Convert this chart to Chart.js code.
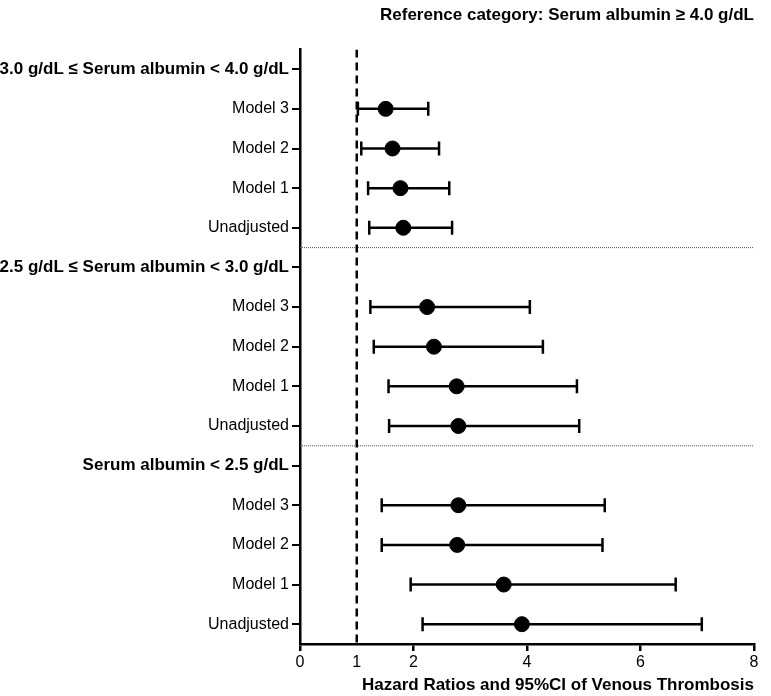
<!DOCTYPE html>
<html>
<head>
<meta charset="utf-8">
<script src="https://cdn.jsdelivr.net/npm/chart.js@4"></script>
<style>
  body { margin: 0; background: #fff; }
</style>
</head>
<body>
<canvas id="forest" width="771" height="696"></canvas>
<script>
const rowLabels = [
    '3.0 g/dL \u2264 Serum albumin < 4.0 g/dL', 'Model 3', 'Model 2', 'Model 1', 'Unadjusted',
    '2.5 g/dL \u2264 Serum albumin < 3.0 g/dL', 'Model 3', 'Model 2', 'Model 1', 'Unadjusted',
    'Serum albumin < 2.5 g/dL', 'Model 3', 'Model 2', 'Model 1', 'Unadjusted'
]
const headerRows = [0, 5, 10]
const separators = [4.5, 9.5]
// hazard ratio and 95% CI per row (null = header row)
const hr    = [null, 1.51, 1.63, 1.77, 1.82, null, 2.24, 2.36, 2.76, 2.79, null, 2.79, 2.77, 3.59, 3.91]
const ciLow = [null, 1.02, 1.08, 1.20, 1.22, null, 1.24, 1.30, 1.56, 1.57, null, 1.44, 1.44, 1.95, 2.16]
const ciHigh= [null, 2.26, 2.45, 2.63, 2.68, null, 4.05, 4.28, 4.88, 4.92, null, 5.37, 5.33, 6.62, 7.08]
const xTicks = [0, 1, 2, 4, 6, 8]

const fontFamily = '"Liberation Sans", Arial, Helvetica, sans-serif'
Chart.defaults.font.family = fontFamily
Chart.defaults.color = '#000'

let datasets = []

// dots first so they are drawn on top
let dots = []
hr.forEach((v, i) => {
    if (v !== null) dots.push({x: v, y: i})
})
datasets.push({
    data: dots,
    pointRadius: 7.5,
    pointBackgroundColor: '#000',
    pointBorderColor: '#000',
    showLine: false
})

// error bars with vertical caps
hr.forEach((v, i) => {
    if (v === null) return
    datasets.push({
        data: [{x: ciLow[i], y: i}, {x: ciHigh[i], y: i}],
        showLine: true,
        borderColor: '#000',
        borderWidth: 2.5,
        pointStyle: 'line',
        pointRotation: 90,
        pointRadius: 7,
        pointBorderWidth: 2.5,
        pointBorderColor: '#000'
    })
})

// reference line at HR = 1
datasets.push({
    data: [{x: 1, y: -0.5}, {x: 1, y: 14.5}],
    showLine: true,
    borderColor: '#000',
    borderWidth: 2.5,
    borderDash: [8, 5],
    pointRadius: 0
})

// dotted separators between groups
separators.forEach(s => {
    datasets.push({
        data: [{x: 0, y: s}, {x: 8, y: s}],
        showLine: true,
        borderColor: '#555',
        borderWidth: 1,
        borderDash: [1, 1],
        pointRadius: 0
    })
})

new Chart(document.getElementById('forest'), {
    type: 'scatter',
    data: {datasets: datasets},
    options: {
        responsive: false,
        animation: false,
        layout: {padding: {left: 0, right: 17, top: 0, bottom: 0}},
        plugins: {
            legend: {display: false},
            tooltip: {enabled: false},
            title: {
                display: true,
                text: 'Reference category: Serum albumin \u2265 4.0 g/dL',
                align: 'end',
                color: '#000',
                font: {size: 17, weight: 'bold'},
                padding: {top: 5, bottom: 24}
            }
        },
        scales: {
            x: {
                type: 'linear',
                min: 0,
                max: 8,
                afterBuildTicks: scale => { scale.ticks = xTicks.map(v => ({value: v})) },
                afterFit: scale => { scale.height = 52 },
                border: {color: '#000', width: 2.5},
                grid: {
                    drawOnChartArea: false,
                    tickLength: 7,
                    lineWidth: 2.5,
                    color: ctx => (ctx.tick && ctx.tick.value === 1) ? 'rgba(0,0,0,0)' : '#000'
                },
                ticks: {font: {size: 16}, padding: 2, color: '#000'},
                title: {
                    display: true,
                    text: 'Hazard Ratios and 95%CI of Venous Thrombosis',
                    align: 'end',
                    color: '#000',
                    font: {size: 17, weight: 'bold'},
                    padding: {top: 0, bottom: 0}
                }
            },
            y: {
                type: 'linear',
                min: -0.5,
                max: 14.5,
                reverse: true,
                afterBuildTicks: scale => { scale.ticks = rowLabels.map((_, i) => ({value: i})) },
                afterFit: scale => { scale.width = 300 },
                border: {color: '#000', width: 2.5},
                grid: {drawOnChartArea: false, tickLength: 8, lineWidth: 2, color: '#000'},
                ticks: {
                    padding: 3,
                    color: '#000',
                    callback: v => rowLabels[v],
                    font: ctx => ({
                        size: headerRows.includes(ctx.tick ? ctx.tick.value : -1) ? 17 : 16,
                        weight: headerRows.includes(ctx.tick ? ctx.tick.value : -1) ? 'bold' : 'normal'
                    })
                }
            }
        }
    }
})
</script>
</body>
</html>
